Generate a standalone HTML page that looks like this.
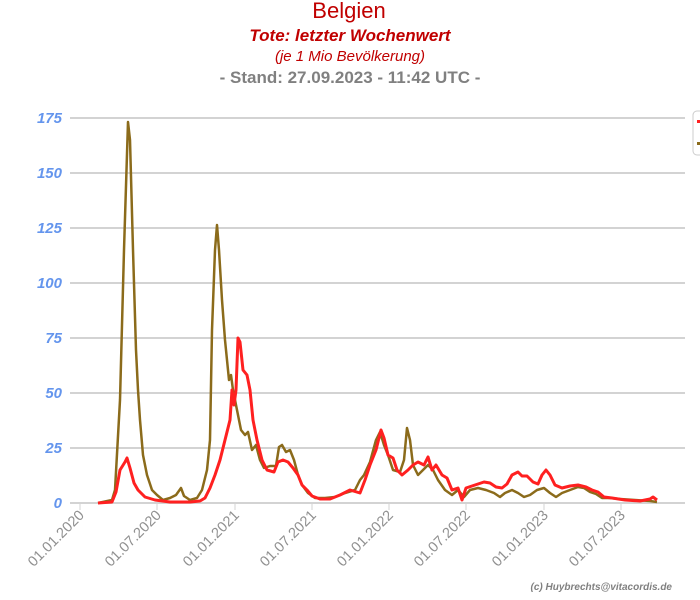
<!DOCTYPE html>
<html><head><meta charset="utf-8"><style>
body{margin:0;background:#fff;}
svg{display:block;font-family:"Liberation Sans",sans-serif;}
</style></head><body>
<svg width="700" height="600" viewBox="0 0 700 600">
<text x="349" y="18" text-anchor="middle" font-size="22" fill="#c00000">Belgien</text>
<text x="350" y="41" text-anchor="middle" font-size="17" font-weight="bold" font-style="italic" fill="#c00000">Tote: letzter Wochenwert</text>
<text x="350" y="61" text-anchor="middle" font-size="15" font-style="italic" fill="#c00000">(je 1 Mio Bevölkerung)</text>
<text x="350" y="83" text-anchor="middle" font-size="17" font-weight="bold" fill="#808080">- Stand: 27.09.2023 - 11:42 UTC -</text>
<g stroke="#d3d3d3" stroke-width="2">
<line x1="70" x2="685" y1="118" y2="118"/><line x1="70" x2="685" y1="173" y2="173"/>
<line x1="70" x2="685" y1="228" y2="228"/><line x1="70" x2="685" y1="283" y2="283"/>
<line x1="70" x2="685" y1="338" y2="338"/><line x1="70" x2="685" y1="393" y2="393"/>
<line x1="70" x2="685" y1="448" y2="448"/><line x1="70" x2="685" y1="503" y2="503"/>
</g>
<g stroke="#d3d3d3" stroke-width="1">
<line x1="80" x2="80" y1="503" y2="510"/><line x1="157" x2="157" y1="503" y2="510"/><line x1="235" x2="235" y1="503" y2="510"/><line x1="312" x2="312" y1="503" y2="510"/><line x1="389" x2="389" y1="503" y2="510"/><line x1="466" x2="466" y1="503" y2="510"/><line x1="544" x2="544" y1="503" y2="510"/><line x1="621" x2="621" y1="503" y2="510"/>
</g>
<g font-size="15" font-weight="bold" font-style="italic" fill="#6495ed" text-anchor="end">
<text x="62" y="123">175</text><text x="62" y="178">150</text><text x="62" y="233">125</text><text x="62" y="288">100</text><text x="62" y="343">75</text><text x="62" y="398">50</text><text x="62" y="453">25</text><text x="62" y="508">0</text>
</g>
<g font-size="14.5" fill="#909090" text-anchor="end">
<text transform="translate(85,516) rotate(-45)">01.01.2020</text>
<text transform="translate(162,516) rotate(-45)">01.07.2020</text>
<text transform="translate(240,516) rotate(-45)">01.01.2021</text>
<text transform="translate(317,516) rotate(-45)">01.07.2021</text>
<text transform="translate(394,516) rotate(-45)">01.01.2022</text>
<text transform="translate(471,516) rotate(-45)">01.07.2022</text>
<text transform="translate(549,516) rotate(-45)">01.01.2023</text>
<text transform="translate(626,516) rotate(-45)">01.07.2023</text>
</g>
<text x="672" y="590" text-anchor="end" font-size="10" font-weight="bold" font-style="italic" fill="#808080">(c) Huybrechts@vitacordis.de</text>
<polyline fill="none" stroke="#8b6b1b" stroke-width="2.5" stroke-linejoin="round" points="98,503 112,500 115,490 120,400 124,250 128,122 130,140 133,250 136,350 138,390 140,420 143,455 147,475 152,490 157,495 163,500 170,498 176,495 181,488 184,496 190,500 197,498 202,490 207,470 210,440 212,330 215,250 217,225 219,250 222,300 225,340 229,380 231,375 233,390 237,410 241,430 245,435 248,432 252,450 256,445 260,460 264,468 270,466 276,466 279,447 282,445 286,452 290,450 294,460 298,475 302,485 308,493 315,498 325,498 335,497 345,493 355,490 360,480 364,475 370,462 376,440 380,432 384,445 388,455 393,470 400,472 404,460 407,428 410,440 413,465 418,475 423,470 428,465 433,470 438,480 445,490 452,495 458,490 464,497 470,490 478,488 486,490 494,493 500,497 505,493 512,490 518,493 524,497 530,495 537,490 544,488 550,493 556,497 562,493 570,490 578,487 584,488 590,492 596,494 602,498 610,498 620,499 635,500 650,501 657,502"/>
<polyline fill="none" stroke="#ff2020" stroke-width="3" stroke-linejoin="round" points="98,503 112,502 116,492 120,470 125,462 127,458 130,468 134,483 138,490 145,497 155,500 170,502 190,502 200,501 205,498 210,488 215,475 220,460 225,440 230,420 232,390 234,405 236,390 238,338 240,342 243,370 247,375 250,390 253,420 257,440 262,460 267,470 274,472 278,462 283,460 288,462 293,468 298,475 302,485 307,490 312,496 320,499 330,499 340,495 350,490 360,493 365,480 370,465 376,450 381,430 384,438 388,455 393,458 397,470 402,475 408,470 413,465 418,462 424,465 428,457 432,470 436,465 442,475 447,478 452,490 458,488 462,500 466,488 472,486 478,484 484,482 490,483 496,487 502,488 507,484 512,475 518,472 522,476 527,476 533,482 538,484 542,475 546,470 550,475 555,485 562,488 570,486 578,485 586,487 592,490 598,492 604,497 612,498 625,500 640,501 650,499 653,497 657,500"/>
<rect x="693" y="111" width="14" height="44" rx="4" fill="#fff" stroke="#ccc"/>
<rect x="697" y="120" width="4" height="3" fill="#ff2020"/>
<rect x="697" y="142" width="4" height="3" fill="#8b6b1b"/>
</svg>
</body></html>
